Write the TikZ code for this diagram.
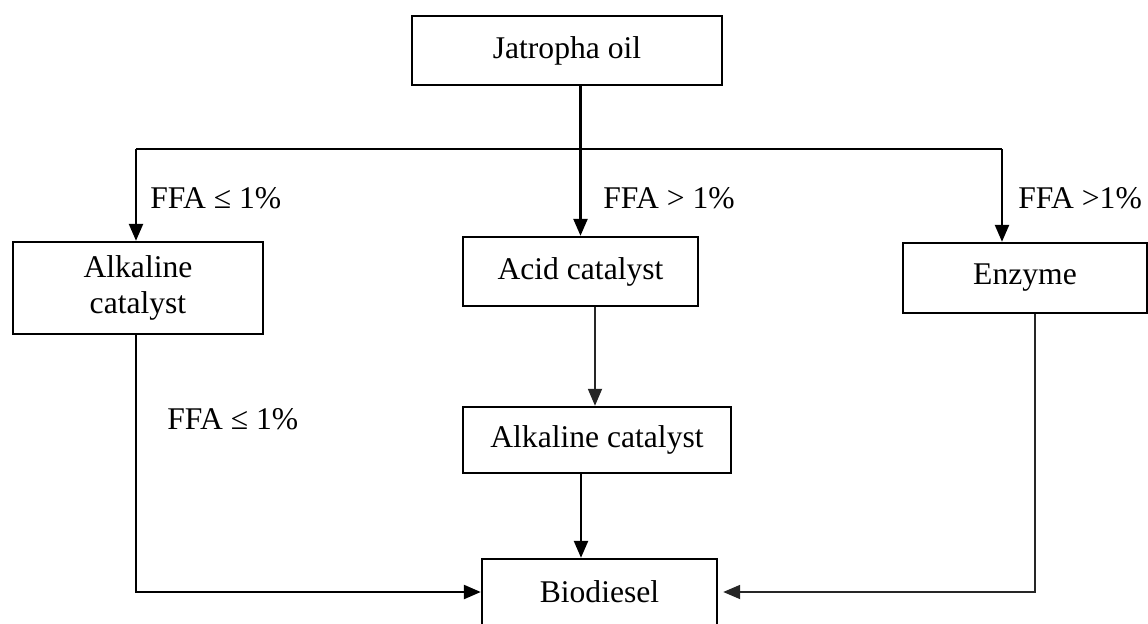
\documentclass[tikz,border=0pt]{standalone}
\usepackage{fontspec}
\setmainfont{Liberation Serif}
\usetikzlibrary{arrows.meta}
\begin{document}
\begin{tikzpicture}[x=0.5pt,y=-0.5pt,
  box/.style={draw=black,line width=1.2pt,rectangle,inner sep=0pt,align=center,
    font=\fontsize{15.8}{18}\selectfont},
  conn/.style={line width=1.2pt,draw=black},
  thin/.style={line width=0.9pt,draw=black!85},
  arr/.style={-{Triangle[width=7pt,length=8.5pt]}},
  lbl/.style={anchor=base west,inner sep=0pt,font=\fontsize{15.8}{18}\selectfont}]
\clip (0,0) rectangle (1148,623);
\fill[white] (0,0) rectangle (1148,623);
% boxes
\node[box,minimum width=155pt,minimum height=34.5pt] (jat) at (567,50.5) {Jatropha oil};
\node[box,minimum width=125pt,minimum height=46pt] (alk1) at (138,288) {Alkaline\\catalyst};
\node[box,minimum width=117.5pt,minimum height=34.5pt] (acid) at (580.5,271.5) {Acid catalyst};
\node[box,minimum width=122pt,minimum height=35pt] (enz) at (1025,278) {Enzyme};
\node[box,minimum width=134pt,minimum height=33pt] (alk2) at (597,440) {Alkaline catalyst};
\node[box,minimum width=117.5pt,minimum height=33pt] (bio) at (599.5,592) {Biodiesel};
% helper coordinates
\coordinate (hl) at (136,149);
\coordinate (hr) at (1002,149);
\coordinate (c1) at (595,0);
\coordinate (c2) at (581,0);
\coordinate (c3) at (1035,0);
% connectors
\draw[conn,arr] (jat.south -| acid.north) -- (acid.north);
\draw[conn] (hl) -- (hr);
\draw[conn,arr] (hl) -- (hl |- alk1.north);
\draw[conn,arr] (hr) -- (hr |- enz.north);
\draw[thin,arr] (acid.south -| c1) -- (alk2.north -| c1);
\draw[conn,arr] (alk2.south -| c2) -- (bio.north -| c2);
\draw[conn,arr] (alk1.south -| hl) |- (bio.west);
\draw[thin,arr] (enz.south -| c3) |- ([xshift=2.5pt]bio.east);
% labels
\node[lbl] (l1) at (150,208) {FFA ≤ 1\%};
\node[lbl] (l2) at (603,208) {FFA > 1\%};
\node[lbl] (l3) at (1018,208) {FFA >1\%};
\node[lbl] (l4) at (167,429) {FFA ≤ 1\%};
\end{tikzpicture}
\end{document}
